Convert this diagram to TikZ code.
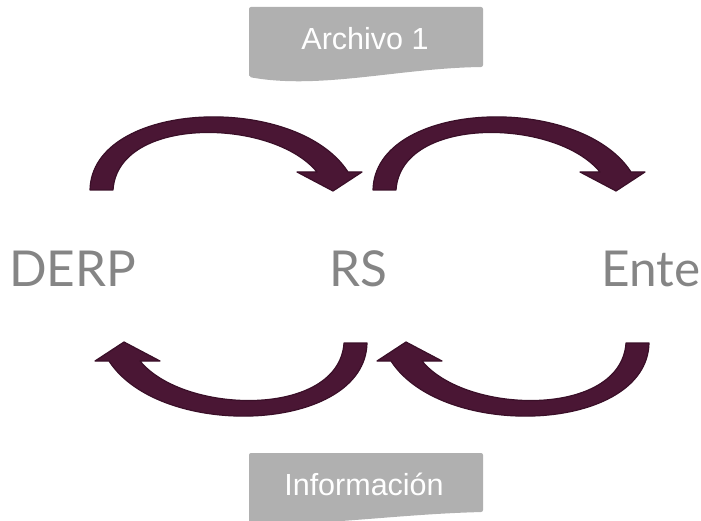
\documentclass[tikz,border=0pt]{standalone}
\usepackage{fontspec}
\setmainfont{Liberation Sans}
\newfontfamily\labelfont{Lato}
\definecolor{arrowfill}{HTML}{4A1634}
\definecolor{arrowline}{HTML}{3A0F28}
\definecolor{boxgray}{HTML}{B0B0B0}
\definecolor{labelgray}{HTML}{858585}
\tikzset{
  curvedarrow/.style={fill=arrowfill,draw=arrowline,line width=1.2pt,line join=round},
  curved arrow/.pic={
    \path[curvedarrow] (90,190) .. controls (92,100) and (296,92) .. (348,172)
      -- (362,172) -- (333,191) -- (297,172) -- (317,172)
      .. controls (273,118) and (118,115) .. (113,190) -- cycle;
  },
  graybox/.style={fill=boxgray,rounded corners=2pt},
  boxtext/.style={inner sep=0pt,anchor=base,text=white,font=\fontsize{30.5}{36}\selectfont},
  biglabel/.style={inner sep=0pt,anchor=base west,text=labelgray,font=\labelfont\fontsize{49.5}{56}\selectfont}
}
\begin{document}
\begin{tikzpicture}[x=1pt,y=-1pt]
\useasboundingbox (0,0) rectangle (701,521);
% boxes
\path[graybox] (249,77) -- (249,7) -- (483,7) -- (483,67)
  .. controls (400,68) and (320,90) .. (249,77) -- cycle;
\path[graybox] (249,524) -- (249,453) -- (483,453) -- (483,512)
  .. controls (400,514) and (320,526) .. (249,524) -- cycle;
\node[boxtext] (archivo) at (365,50) {Archivo 1};
\node[boxtext] (info) at (364,495) {Información};
% arrows
\pic at (0,0) {curved arrow};
\pic at (283,0) {curved arrow};
\pic[rotate=180] at (457,533) {curved arrow};
\pic[rotate=180] at (739,533) {curved arrow};
% labels
\node[biglabel] (derp) at (9,287) {DERP};
\node[biglabel] (rs) at (329,287) {RS};
\node[biglabel] (ente) at (601,287) {Ente};
\end{tikzpicture}
\end{document}
